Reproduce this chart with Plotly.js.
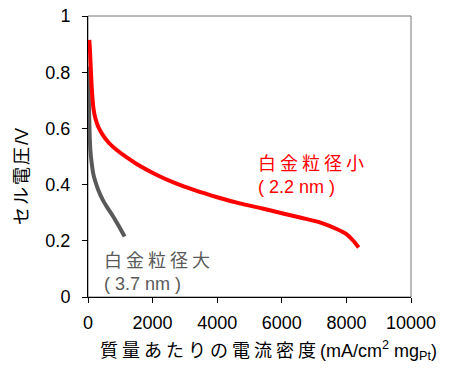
<!DOCTYPE html>
<html>
<head>
<meta charset="utf-8">
<script src="https://cdn.plot.ly/plotly-3.0.1.min.js"></script>
<style>html,body{margin:0;padding:0;background:#fff;}</style>
</head>
<body>
<div id="chart" style="width:450px;height:370px;"></div>
<script>
// Small-particle Pt catalyst (2.2 nm)
const smallX = [40, 60, 80, 100, 130, 170, 230, 320, 450, 650, 900, 1200, 1600, 2100, 2700, 3300, 4000, 4700, 5400, 6000, 6600, 7200, 7700, 8000, 8200, 8380];
const smallY = [0.915, 0.88, 0.83, 0.78, 0.72, 0.67, 0.635, 0.605, 0.578, 0.548, 0.522, 0.497, 0.467, 0.436, 0.405, 0.380, 0.355, 0.333, 0.315, 0.298, 0.282, 0.265, 0.242, 0.224, 0.202, 0.176];
// Large-particle Pt catalyst (3.7 nm)
const largeX = [10, 30, 50, 75, 110, 160, 230, 330, 460, 600, 760, 930, 1134];
const largeY = [0.82, 0.68, 0.58, 0.52, 0.48, 0.44, 0.41, 0.377, 0.345, 0.318, 0.29, 0.257, 0.215];

const xTicks = [0, 2000, 4000, 6000, 8000, 10000];
const yTicks = [0, 0.2, 0.4, 0.6, 0.8, 1];

const labelSmall = ['白金粒径小', '( 2.2 nm )'];
const labelLarge = ['白金粒径大', '( 3.7 nm )'];
const xTitleJa = '質量あたりの電流密度';
const xTitleUnit = '(mA/cm<sup>2</sup> mg<sub>Pt</sub>)';
const yTitleJa = 'セル電圧';
const yTitleUnit = '/V';

const FONT = 'Liberation Sans, Arial, Noto Sans CJK JP, sans-serif';
const sp = (s, n) => '<span style="letter-spacing:' + n + 'px">' + s + '</span>';

const traces = [
  {x: largeX, y: largeY, mode: 'lines', line: {color: '#595959', width: 4, shape: 'spline', smoothing: 0.8}, hoverinfo: 'skip'},
  {x: smallX, y: smallY, mode: 'lines', line: {color: '#ff0000', width: 4, shape: 'spline', smoothing: 0.8}, hoverinfo: 'skip'}
];

const layout = {
  width: 450, height: 370,
  margin: {l: 88, r: 39, t: 16, b: 73},
  paper_bgcolor: '#fff', plot_bgcolor: '#fff',
  showlegend: false,
  font: {family: FONT, size: 18, color: '#000'},
  xaxis: {
    range: [0, 10000], tickvals: xTicks, ticktext: xTicks.map(String),
    showgrid: false, zeroline: false, showline: true, linecolor: '#000', linewidth: 1,
    ticks: 'outside', ticklen: 5, tickcolor: '#000', ticklabelstandoff: 4,
    tickfont: {size: 18}
  },
  yaxis: {
    range: [0, 1], tickvals: yTicks, ticktext: yTicks.map(String),
    showgrid: false, zeroline: false, showline: true, linecolor: '#000', linewidth: 1,
    ticks: 'outside', ticklen: 5, tickcolor: '#000', ticklabelstandoff: 8,
    tickfont: {size: 18}
  },
  shapes: [
    {type: 'rect', xref: 'paper', yref: 'paper', x0: 0, x1: 1, y0: 0, y1: 1, line: {color: '#777', width: 1}, layer: 'below'}
  ],
  annotations: [
    {x: 5200, y: 0.432, xref: 'x', yref: 'y', xanchor: 'left', yanchor: 'middle', align: 'left', showarrow: false,
     text: sp(labelSmall[0], 4) + '<br>' + labelSmall[1], font: {family: FONT, size: 18, color: '#ff0000'}},
    {x: 420, y: 0.086, xref: 'x', yref: 'y', xanchor: 'left', yanchor: 'middle', align: 'left', showarrow: false,
     text: sp(labelLarge[0], 4) + '<br>' + labelLarge[1], font: {family: FONT, size: 18, color: '#595959'}},
    {x: 0.56, y: -0.19, xref: 'paper', yref: 'paper', xanchor: 'center', yanchor: 'middle', showarrow: false,
     text: sp(xTitleJa, 4) + xTitleUnit, font: {family: FONT, size: 18, color: '#000'}},
    {x: -0.205, y: 0.43, xref: 'paper', yref: 'paper', xanchor: 'center', yanchor: 'middle', showarrow: false, textangle: -90,
     text: sp(yTitleJa, 2) + yTitleUnit, font: {family: FONT, size: 18, color: '#000'}}
  ]
};

Plotly.newPlot('chart', traces, layout, {staticPlot: true, displayModeBar: false});
</script>
</body>
</html>
